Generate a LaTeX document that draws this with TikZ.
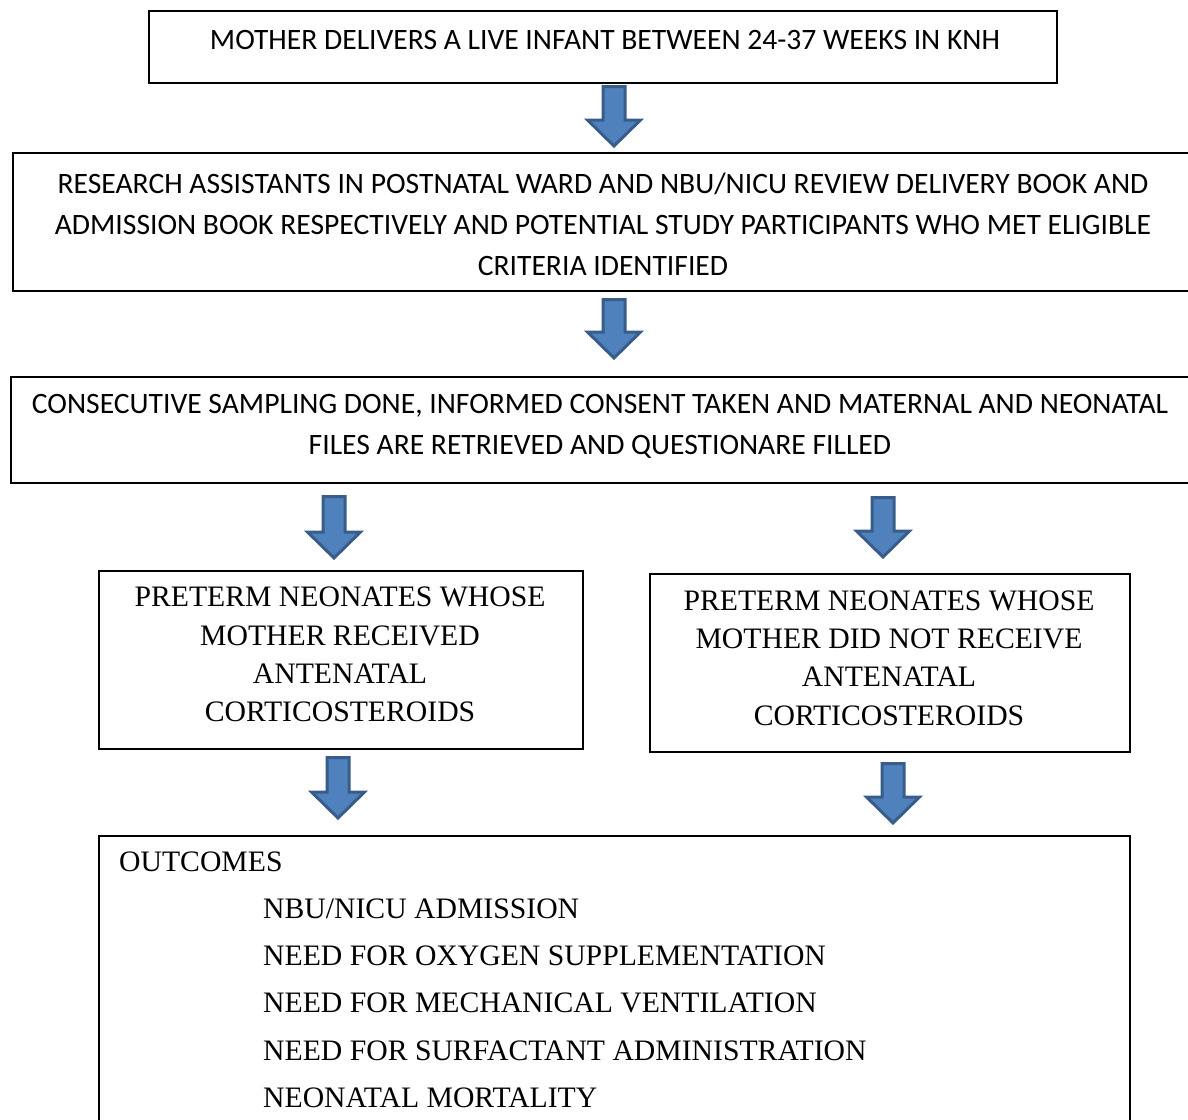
\documentclass[tikz,border=0pt]{standalone}
\usepackage{fontspec}
\setmainfont{Liberation Serif}
\newfontfamily\carlitofont{Carlito}
\definecolor{arrfill}{HTML}{4F81BD}
\definecolor{arrline}{HTML}{385D8A}
\newcommand{\blockdown}[4]{% name, center x, top y, tip y
  \coordinate (#1) at (#2,#3);
  \draw[blockarrow] ({#2-11},{#3+1.5}) -- ({#2+11},{#3+1.5}) -- ({#2+11},{#4-28}) -- ({#2+26.5},{#4-28})
    -- (#2,{#4-2}) -- ({#2-26.5},{#4-28}) -- ({#2-11},{#4-28}) -- cycle;}
\begin{document}
\begin{tikzpicture}[x=1pt,y=-1pt,
  box/.style={draw=black,line width=1.6pt,inner sep=0pt,anchor=north west},
  sanstext/.style={font=\carlitofont\fontsize{29.6}{41}\selectfont,align=center,inner sep=0pt},
  seriftext/.style={font=\fontsize{29.7}{38.3}\selectfont,align=center,inner sep=0pt},
  outtext/.style={font=\fontsize{29.7}{35}\selectfont,inner sep=0pt,anchor=base west},
  blockarrow/.style={fill=arrfill,draw=arrline,line width=3pt,line join=miter}]
\useasboundingbox (0,0) rectangle (1188,1119);
\clip (0,0) rectangle (1188,1119);
% boxes
\node[box,minimum width=908pt,minimum height=72pt] (b1) at (148,10) {};
\node[box,minimum width=1200pt,minimum height=138pt] (b2) at (12,152) {};
\node[box,minimum width=1200pt,minimum height=106pt] (b3) at (10,376) {};
\node[box,minimum width=484pt,minimum height=178pt] (b4) at (98,570) {};
\node[box,minimum width=480pt,minimum height=178pt] (b5) at (649,573) {};
\node[box,minimum width=1031pt,minimum height=300pt] (b6) at (98,835) {};
% texts
\node[sanstext] (t1) at (605,40) {MOTHER DELIVERS A LIVE INFANT BETWEEN 24-37 WEEKS IN KNH};
\node[sanstext] (t2) at (603,224) {RESEARCH ASSISTANTS IN POSTNATAL WARD AND NBU/NICU REVIEW DELIVERY BOOK AND\\ADMISSION BOOK RESPECTIVELY AND POTENTIAL STUDY PARTICIPANTS WHO MET ELIGIBLE\\CRITERIA IDENTIFIED};
\node[sanstext] (t3) at (600,426.5) {CONSECUTIVE SAMPLING DONE, INFORMED CONSENT TAKEN AND MATERNAL AND NEONATAL\\FILES ARE RETRIEVED AND QUESTIONARE FILLED};
\node[seriftext] (t4) at (340,654.5) {PRETERM NEONATES WHOSE\\MOTHER RECEIVED\\ANTENATAL\\CORTICOSTEROIDS};
\node[seriftext] (t5) at (889,658) {PRETERM NEONATES WHOSE\\MOTHER DID NOT RECEIVE\\ANTENATAL\\CORTICOSTEROIDS};
\node[outtext] (o0) at (119,871) {OUTCOMES};
\node[outtext] (o1) at (263,918) {NBU/NICU ADMISSION};
\node[outtext] (o2) at (263,965) {NEED FOR OXYGEN SUPPLEMENTATION};
\node[outtext] (o3) at (263,1012) {NEED FOR MECHANICAL VENTILATION};
\node[outtext] (o4) at (263,1060) {NEED FOR SURFACTANT ADMINISTRATION};
\node[outtext] (o5) at (263,1107) {NEONATAL MORTALITY};
% arrows
\blockdown{a1}{614}{85}{148}
\blockdown{a2}{614}{298}{360}
\blockdown{a3}{334}{495}{560}
\blockdown{a4}{883}{496}{559}
\blockdown{a5}{338}{756}{820}
\blockdown{a6}{893}{762}{825}
\end{tikzpicture}
\end{document}
